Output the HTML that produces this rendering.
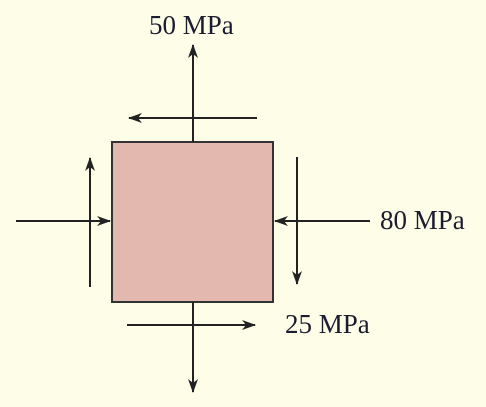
<!DOCTYPE html>
<html><head><style>
html,body{margin:0;padding:0;background:#fefde8;}
svg{display:block}
text{font-family:"Liberation Serif",serif;font-size:27px;fill:#1c1c30}
</style></head><body>
<svg width="486" height="407" viewBox="0 0 486 407">
<defs><marker id="ah" markerWidth="14" markerHeight="10" refX="13" refY="5" orient="auto" markerUnits="userSpaceOnUse"><path d="M0,0 L14,5 L0,10 L4,5 Z" fill="#222"/></marker></defs>
<rect x="0" y="0" width="486" height="407" fill="#fefde8"/>
<rect x="112" y="142" width="161" height="160" fill="#e3b8ae" stroke="#333" stroke-width="2"/>
<g stroke="#222" stroke-width="2" fill="none">
<line x1="193" y1="142" x2="193" y2="45" marker-end="url(#ah)"/>
<line x1="193" y1="302" x2="193" y2="392" marker-end="url(#ah)"/>
<line x1="257" y1="118" x2="129" y2="118" marker-end="url(#ah)"/>
<line x1="127" y1="325" x2="255" y2="325" marker-end="url(#ah)"/>
<line x1="90" y1="287" x2="90" y2="158" marker-end="url(#ah)"/>
<line x1="297" y1="157" x2="297" y2="284" marker-end="url(#ah)"/>
<line x1="16" y1="221" x2="110" y2="221" marker-end="url(#ah)"/>
<line x1="370" y1="221" x2="275" y2="221" marker-end="url(#ah)"/>
</g>
<text x="149" y="34">50 MPa</text>
<text x="380" y="229">80 MPa</text>
<text x="285" y="333">25 MPa</text>
</svg>
</body></html>
